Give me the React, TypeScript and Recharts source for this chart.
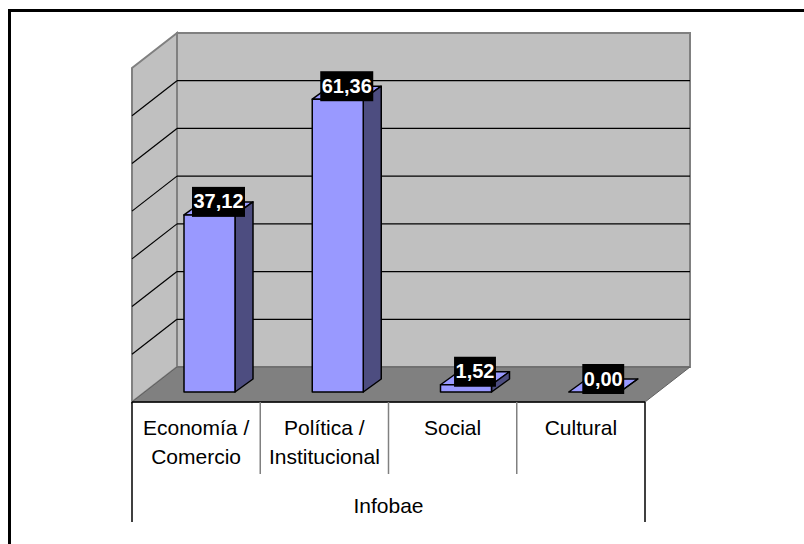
import React from 'react';
import { BarChart, Bar, XAxis, YAxis, CartesianGrid, LabelList } from 'recharts';

const categories = ['Economía /\nComercio', 'Política /\nInstitucional', 'Social', 'Cultural'];
const values = [37.12, 61.36, 1.52, 0];
const groupLabel = 'Infobae';
const yTicks = [0, 10, 20, 30, 40, 50, 60, 70];

const data = categories.map((name, i) => ({ name, value: values[i] }));

const FONT = '"Liberation Sans", Arial, sans-serif';
// oblique depth offsets, relative to the plane the bars' front faces sit in
const WALL_DX = 32;
const WALL_DY = 25;
const FRONT_DX = -13;
const FRONT_DY = 10;
const BAR_DX = 18;
const BAR_DY = 13;

const renderGridLine = (p: any) => {
  const { x, y, width, height, y1, index } = p;
  const bottom = y + height;
  const isEdge = Math.abs(y1 - bottom) < 0.5 || Math.abs(y1 - y) < 0.5;
  const colW = width / categories.length;
  const fx = x + FRONT_DX;
  const fy = bottom + FRONT_DY;
  return (
    <g key={p.key}>
      {index === 0 && (
        <g>
          <rect x={x + WALL_DX} y={y - WALL_DY} width={width} height={height} fill="#C0C0C0" stroke="#808080" strokeWidth={2} />
          <polygon
            points={`${x + FRONT_DX},${y + FRONT_DY} ${x + WALL_DX},${y - WALL_DY} ${x + WALL_DX},${bottom - WALL_DY} ${fx},${fy}`}
            fill="#C0C0C0"
            stroke="#808080"
            strokeWidth={2}
          />
          <polygon
            points={`${fx},${fy} ${fx + width},${fy} ${x + width + WALL_DX},${bottom - WALL_DY} ${x + WALL_DX},${bottom - WALL_DY}`}
            fill="#808080"
            stroke="#606060"
            strokeWidth={1}
          />
          {/* category table under the floor */}
          <line x1={fx} y1={fy} x2={fx + width} y2={fy} stroke="#000" strokeWidth={1.5} />
          <line x1={fx} y1={fy} x2={fx} y2={fy + 120} stroke="#000" strokeWidth={1.5} />
          <line x1={fx + width} y1={fy} x2={fx + width} y2={fy + 120} stroke="#000" strokeWidth={1.5} />
          {categories.slice(1).map((_, i) => (
            <line key={i} x1={fx + colW * (i + 1)} y1={fy} x2={fx + colW * (i + 1)} y2={fy + 72} stroke="#808080" strokeWidth={1.5} />
          ))}
          <text x={fx + width / 2} y={fy + 111} textAnchor="middle" fontSize={21} fontFamily={FONT} fill="#000">
            {groupLabel}
          </text>
        </g>
      )}
      {!isEdge && (
        <g>
          <line x1={x + WALL_DX} y1={y1 - WALL_DY} x2={x + width + WALL_DX} y2={y1 - WALL_DY} stroke="#000" strokeWidth={1.2} />
          <line x1={x + FRONT_DX} y1={y1 + FRONT_DY} x2={x + WALL_DX} y2={y1 - WALL_DY} stroke="#000" strokeWidth={1.2} />
        </g>
      )}
    </g>
  );
};

const Bar3D = (p: any) => {
  const { x, y, width: w, height: h } = p;
  if (x == null || y == null) return null;
  return (
    <g stroke="#000" strokeWidth={1.5} strokeLinejoin="round">
      <polygon points={`${x},${y} ${x + BAR_DX},${y - BAR_DY} ${x + w + BAR_DX},${y - BAR_DY} ${x + w},${y}`} fill="#9999FF" />
      <polygon points={`${x + w},${y} ${x + w + BAR_DX},${y - BAR_DY} ${x + w + BAR_DX},${y + h - BAR_DY} ${x + w},${y + h}`} fill="#4D4D80" />
      {h > 0 && <rect x={x} y={y} width={w} height={h} fill="#9999FF" />}
    </g>
  );
};

const renderValueLabel = (p: any) => {
  const vb = p.viewBox || p;
  const { x, y, width } = vb;
  const text = Number(p.value).toFixed(2).replace('.', ',');
  const digits = text.replace(/[^0-9]/g, '').length;
  const tw = digits * 11.1 + (text.length - digits) * 5.6 + 3;
  const cx = x + width / 2 + BAR_DX / 2;
  const cy = y - BAR_DY;
  return (
    <g>
      <rect x={cx - tw / 2} y={cy - 15} width={tw} height={30} fill="#000" />
      <text x={cx} y={cy + 6.5} textAnchor="middle" fontSize={20} fontWeight="bold" fontFamily={FONT} fill="#fff">
        {text}
      </text>
    </g>
  );
};

const CategoryTick = (p: any) => {
  const { x, y, payload } = p;
  const lines = String(payload.value).split('\n');
  const tx = x + FRONT_DX;
  return (
    <text x={tx} y={y + 43} textAnchor="middle" fontSize={21} fontFamily={FONT} fill="#000">
      {lines.map((l, i) => (
        <tspan key={i} x={tx} dy={i === 0 ? 0 : 29}>
          {l}
        </tspan>
      ))}
    </text>
  );
};

export default function App() {
  return (
    <div style={{ position: 'absolute', left: 0, top: 0, width: 804, height: 544, overflow: 'hidden', background: '#fff' }}>
      <div
        style={{
          position: 'absolute',
          left: 8,
          top: 9,
          width: 900,
          height: 700,
          borderLeft: '3px solid #000',
          borderTop: '3px solid #000',
        }}
      />
      <div style={{ position: 'absolute', left: 0, top: 0 }}>
        <BarChart width={804} height={544} data={data} margin={{ top: 58, right: 146, bottom: 0, left: 145 }}>
          <CartesianGrid vertical={false} horizontal={renderGridLine} />
          <YAxis hide width={0} domain={[0, 70]} ticks={yTicks} />
          <XAxis
            dataKey="name"
            height={152}
            axisLine={false}
            tickLine={false}
            tickSize={0}
            tickMargin={0}
            interval={0}
            tick={<CategoryTick />}
          />
          <Bar dataKey="value" barSize={51} shape={<Bar3D />} isAnimationActive={false}>
            <LabelList dataKey="value" content={renderValueLabel} />
          </Bar>
        </BarChart>
      </div>
    </div>
  );
}
